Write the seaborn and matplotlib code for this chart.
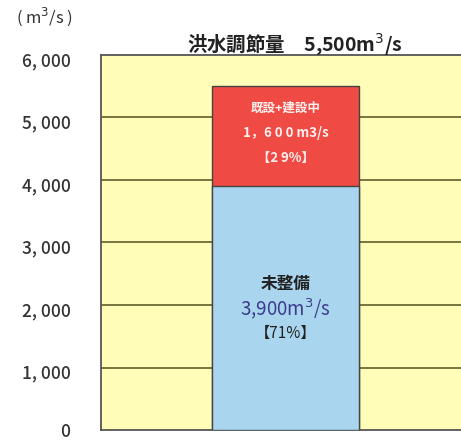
import matplotlib
matplotlib.use("Agg")
import matplotlib.pyplot as plt
import matplotlib.transforms as mtransforms
import seaborn as sns
import pandas as pd

categories = ["洪水調節量"]
undeveloped = [3900]      # 未整備
existing = [1600]         # 既設+建設中
yticks = [0, 1000, 2000, 3000, 4000, 5000, 6000]
ytick_labels = ["0", "1, 000", "2, 000", "3, 000", "4, 000", "5, 000", "6, 000"]

total = [u + e for u, e in zip(undeveloped, existing)]
df = pd.DataFrame({"cat": categories, "total": total, "undeveloped": undeveloped})

sns.set_theme(style="white")
plt.rcParams["font.family"] = ["Noto Sans CJK JP", "DejaVu Sans"]

fig = plt.figure(figsize=(4.61, 4.40), dpi=100)
ax = fig.add_axes([101 / 461, 10 / 440, 370 / 461, 375 / 440])
ax.set_facecolor("#FFFDB8")
fig.patch.set_facecolor("white")

sns.barplot(data=df, x="cat", y="total", color="#F04A45", saturation=1, width=0.8,
            edgecolor="#444444", linewidth=1.0, ax=ax, zorder=3)
sns.barplot(data=df, x="cat", y="undeveloped", color="#A9D6EE", saturation=1, width=0.8,
            edgecolor="#444444", linewidth=1.0, ax=ax, zorder=4)

ax.set_ylim(0, 6000)
ax.set_xlim(-1.004, 1.01)
ax.set_yticks(yticks)
ax.set_yticklabels(ytick_labels, fontsize=12.5, color="#333333", fontweight="medium")
ax.tick_params(axis="y", length=0, pad=22)
for i, lab in enumerate(ax.get_yticklabels()):
    dy = 0 if i == 0 else -3
    offset = mtransforms.ScaledTranslation(0, dy / 72, fig.dpi_scale_trans)
    lab.set_transform(lab.get_transform() + offset)
ax.set_xticks([])
ax.set_xlabel("")
ax.set_ylabel("")
for y in yticks[1:-1]:
    ax.axhline(y, color="#6B6B35", lw=1.3, zorder=1)
for s in ["left", "bottom", "top"]:
    ax.spines[s].set_color("#555555")
    ax.spines[s].set_linewidth(1.3)
ax.spines["right"].set_visible(False)

u = undeveloped[0]
e = existing[0]
t = total[0]
# red section
ax.text(0, u + e * 0.78, "既設+建設中", ha="center", va="center", color="#FFF0EE",
        fontsize=9, fontweight="bold", zorder=5)
ax.text(0, u + e * 0.53, f"{e // 1000}，" + " ".join(f"{e % 1000:03d}") + " m3/s",
        ha="center", va="center", color="#FFF0EE", fontsize=9.5, fontweight="bold", zorder=5)
ax.text(0, u + e * 0.28, "【" + " ".join(str(round(e / t * 100))) + "%】", ha="center", va="center",
        color="#FFF0EE", fontsize=9.5, fontweight="bold", zorder=5)
# blue section
ax.text(0, u * 0.60, "未整備", ha="center", va="center", color="#222222",
        fontsize=12, fontweight="bold", zorder=5)
ax.text(0, u * 0.50, f"{u:,}m$^3$/s", ha="center", va="center", color="#3B3B8C",
        fontsize=13.5, zorder=5)
ax.text(0, u * 0.395, f"【{round(u / t * 100)}%】", ha="center", va="center", color="#222222",
        fontsize=11, zorder=5)

fig.text(295 / 461, 1 - 44 / 440, f"{categories[0]}　{t:,}m$^3$/s", ha="center", va="center",
         fontsize=14, fontweight="bold", color="#222222")
fig.text(45 / 461, 1 - 17 / 440, "( m$^3$/s )", ha="center", va="center", fontsize=12, color="#333333")

fig.savefig("out.png", dpi=100)
